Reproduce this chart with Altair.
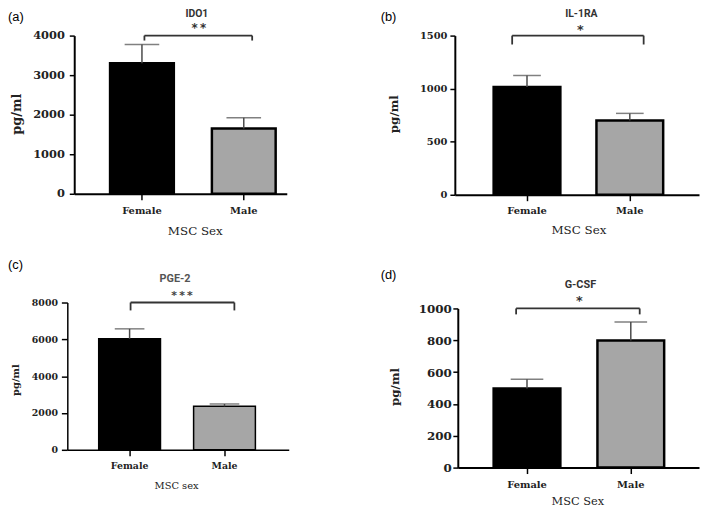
import altair as alt
import pandas as pd

# ---------------- data ----------------
categories = ["Female", "Male"]
bar_colors = ["#000000", "#a6a6a6"]

titles = ["IDO1", "IL-1RA", "PGE-2", "G-CSF"]
letters = ["(a)", "(b)", "(c)", "(d)"]
stars = ["**", "*", "***", "*"]
x_titles = ["MSC Sex", "MSC Sex", "MSC sex", "MSC Sex"]
y_title = "pg/ml"

ido1_mean = [3300, 1650]
ido1_sem = [475, 275]
il1ra_mean = [1016, 699]
il1ra_sem = [108, 68]
pge2_mean = [6030, 2360]
pge2_sem = [540, 130]
gcsf_mean = [497, 799]
gcsf_sem = [58, 116]

ido1_ticks = [0, 1000, 2000, 3000, 4000]
il1ra_ticks = [0, 500, 1000, 1500]
pge2_ticks = [0, 2000, 4000, 6000, 8000]
gcsf_ticks = [0, 200, 400, 600, 800, 1000]

# ---------------- layout / style ----------------
W, H, M = 700, 505, 8          # chart size and page margin (page coords -> chart coords)
SERIF = "DejaVu Serif"
SANS = "Roboto"
LETTER_FONT = "Liberation Sans"
INK = "#222222"
ERR = "#4a4a4a"
BR = "#333333"

# page-pixel layout of each panel
layouts = [
    dict(ax=75, xe=290, y0=193, ytop=33, b1=110, bw=67, b2=213, sw=2.5, brL=146, brR=255, brB=38,
         cap=35, dom=2, ylab=11.5, ypad=5, ytick=5, xlab=10, xpad=11, xtitle=12, ytitle=13,
         xt=(197, 230), yt=(17, 112), title=(199, 11, 10.5, "bold", "#333333"), star=(201, 22, 12, "#333333"),
         letter=(8, 8, "top")),
    dict(ax=460, xe=699 + M, y0=194, ytop=33, b1=498, bw=70, b2=602, sw=2.5, brL=518, brR=651, brB=42,
         cap=28, dom=2, ylab=10, ypad=3, ytick=5, xlab=10, xpad=10, xtitle=12, ytitle=12,
         xt=(585, 229), yt=(398, 112), title=(588, 11, 10.5, "bold", "#333333"), star=(587, 24, 13, "#333333"),
         letter=(385, 8, "top")),
    dict(ax=68, xe=292, y0=452, ytop=303, b1=99, bw=64, b2=195, sw=1.5, brL=132, brR=237, brB=311,
         cap=30, dom=1.5, ylab=9.5, ypad=4, ytick=6, xlab=9.5, xpad=10, xtitle=10, ytitle=10,
         xt=(178, 488), yt=(16, 381), title=(177, 279, 11, "bold", "#555555"), star=(184, 293, 11, "#444444"),
         letter=(8, 265, "middle")),
    dict(ax=463, xe=699 + M, y0=470, ytop=309, b1=498, bw=70, b2=603, sw=2.5, brL=522, brR=647, brB=315,
         cap=33, dom=2, ylab=12, ypad=1.5, ytick=5, xlab=10, xpad=11, xtitle=11.5, ytitle=12,
         xt=(584, 504), yt=(399, 388), title=(587, 285, 11, "bold", "#333333"), star=(586, 298, 13, "#333333"),
         letter=(385, 275, "middle")),
]

panel_data = [
    (ido1_mean, ido1_sem, ido1_ticks),
    (il1ra_mean, il1ra_sem, il1ra_ticks),
    (pge2_mean, pge2_sem, pge2_ticks),
    (gcsf_mean, gcsf_sem, gcsf_ticks),
]


def make_panel(lay, mean, sem, ticks, xtitle):
    ymax = ticks[-1]
    step = lay["b2"] - lay["b1"]
    bandwidth = lay["bw"] - lay["sw"]
    inner = 1 - bandwidth / step
    span = lay["xe"] - lay["ax"]
    outer = (span / step - 2 + inner) / 2
    first = lay["b1"] + lay["sw"] / 2
    align = (first - lay["ax"]) / (span - step * (2 - inner))
    fL = (lay["brL"] - first) / bandwidth
    fR = (lay["brR"] - (first + step)) / bandwidth

    xscale = alt.Scale(domain=categories, range=[lay["ax"] - M, lay["xe"] - M],
                       paddingInner=inner, paddingOuter=outer, align=align)
    yscale = alt.Scale(domain=[0, ymax], range=[lay["y0"] - M, lay["ytop"] - M], nice=False, zero=False)

    xaxis = alt.Axis(orient="bottom", offset=lay["y0"] - M - H, title=xtitle, labelAngle=0,
                     labelFont=SERIF, labelFontWeight="bold", labelFontSize=lay["xlab"], labelColor=INK,
                     labelBaseline="middle", labelPadding=lay["xpad"],
                     tickSize=6, tickWidth=1.5, tickColor="black",
                     domainColor="black", domainWidth=lay["dom"],
                     titleFont=SERIF, titleFontWeight="normal", titleFontSize=lay["xtitle"], titleColor=INK,
                     titleX=lay["xt"][0] - M, titleY=lay["xt"][1] - lay["y0"],
                     titleAlign="center", titleBaseline="middle")
    yaxis = alt.Axis(orient="left", offset=-(lay["ax"] - M), values=ticks, format="d", grid=False,
                     title=y_title,
                     labelFont=SERIF, labelFontWeight="bold", labelFontSize=lay["ylab"], labelColor=INK,
                     labelPadding=lay["ypad"], tickSize=lay["ytick"], tickWidth=1.5, tickColor="black",
                     domainColor="black", domainWidth=lay["dom"],
                     titleFont=SERIF, titleFontWeight="bold", titleFontSize=lay["ytitle"], titleColor=INK,
                     titleAngle=270, titleX=lay["yt"][0] - lay["ax"], titleY=lay["yt"][1] - M,
                     titleAlign="center", titleBaseline="middle")

    df = pd.DataFrame({"cat": categories, "mean": mean,
                       "top": [m + s for m, s in zip(mean, sem)]})
    base = alt.Chart(df)
    bars = base.mark_bar(stroke="black", strokeWidth=lay["sw"]).encode(
        x=alt.X("cat:N", scale=xscale, axis=xaxis),
        y=alt.Y("mean:Q", scale=yscale, axis=yaxis),
        color=alt.Color("cat:N", scale=alt.Scale(domain=categories, range=bar_colors), legend=None),
    )
    stems = base.mark_rule(color=ERR, strokeWidth=1.5).encode(
        x=alt.X("cat:N", scale=xscale, axis=xaxis),
        y=alt.Y("mean:Q", scale=yscale, axis=yaxis),
        y2="top:Q",
    )
    caps = base.mark_tick(orient="horizontal", color=ERR, thickness=1.5, size=lay["cap"]).encode(
        x=alt.X("cat:N", scale=xscale, axis=xaxis),
        y=alt.Y("top:Q", scale=yscale, axis=yaxis),
    )

    br = pd.DataFrame({"start": [categories[0]], "end": [categories[1]], "level": [ymax]})
    bb = alt.Chart(br)
    hline = bb.mark_rule(color=BR, strokeWidth=1.8).encode(
        x=alt.X("start:N", bandPosition=fL, scale=xscale, axis=xaxis),
        x2=alt.X2("end:N", bandPosition=fR),
        y=alt.Y("level:Q", scale=yscale, axis=yaxis),
    )
    ltick = bb.mark_rule(color=BR, strokeWidth=1.8).encode(
        x=alt.X("start:N", bandPosition=fL, scale=xscale, axis=xaxis),
        y=alt.Y("level:Q", scale=yscale, axis=yaxis),
        y2=alt.value(lay["brB"] - M),
    )
    rtick = bb.mark_rule(color=BR, strokeWidth=1.8).encode(
        x=alt.X("end:N", bandPosition=fR, scale=xscale, axis=xaxis),
        y=alt.Y("level:Q", scale=yscale, axis=yaxis),
        y2=alt.value(lay["brB"] - M),
    )
    return alt.layer(bars, stems, caps, hline, ltick, rtick)


def note(text, x, y, font, size, weight="normal", color=INK, align="center", baseline="middle"):
    return alt.Chart(alt.Data(values=[{"k": 0}])).mark_text(
        text=text, font=font, fontSize=size, fontWeight=weight, color=color,
        align=align, baseline=baseline,
    ).encode(x=alt.value(x - M), y=alt.value(y - M))


panels = []
notes = []
for i, lay in enumerate(layouts):
    mean, sem, ticks = panel_data[i]
    panels.append(make_panel(lay, mean, sem, ticks, x_titles[i]))
    lx, ly, lb = lay["letter"]
    notes.append(note(letters[i], lx, ly, LETTER_FONT, 13, color="#000000", align="left", baseline=lb))
    tx, ty, tsz, tw, tc = lay["title"]
    notes.append(note(titles[i], tx, ty, SANS, tsz, weight=tw, color=tc))
    sx, sy, ssz, sc = lay["star"]
    notes.append(note("\u2009".join(stars[i]), sx, sy + 0.58 * ssz, "DejaVu Sans", ssz,
                      weight="bold", color=sc, baseline="alphabetic"))

chart = (
    alt.layer(*panels, *notes)
    .resolve_scale(x="independent", y="independent")
    .properties(width=W, height=H, padding=0, autosize=alt.AutoSizeParams(type="none"),
                background="white")
    .configure_view(strokeWidth=0)
)

chart.save("out.html", embed_options={"renderer": "svg", "actions": False})
